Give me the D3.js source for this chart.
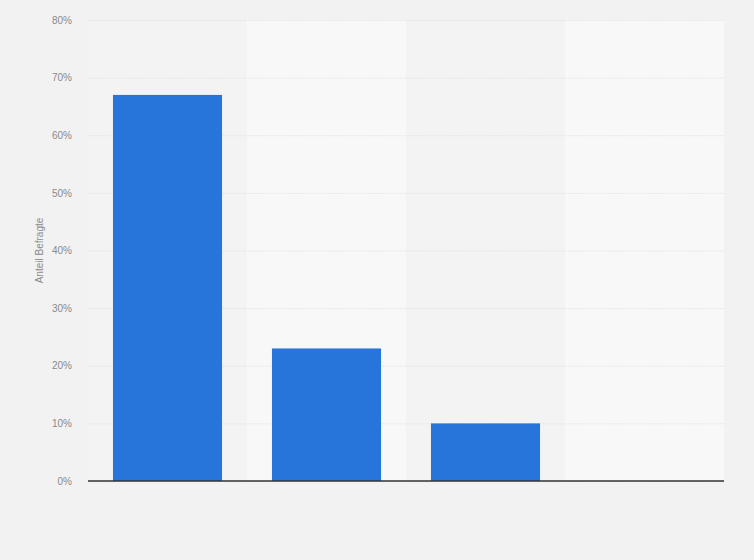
<!DOCTYPE html>
<html><head><meta charset="utf-8">
<script src="https://cdn.jsdelivr.net/npm/d3@7"></script>
<style>
html,body{margin:0;padding:0;background:#f2f2f2;}
svg{display:block;font-family:"Liberation Sans",Arial,sans-serif;}
</style></head>
<body>
<script>
const categories = ["A", "B", "C", "D"];
const values = [67, 23, 10, 0];
const yTicks = [0, 10, 20, 30, 40, 50, 60, 70, 80];
const yLabel = "Anteil Befragte";

const W = 754, H = 560;
const m = {left: 88, right: 30, top: 20, bottom: 79};
const svg = d3.select("body").append("svg").attr("width", W).attr("height", H);
svg.append("rect").attr("width", W).attr("height", H).attr("fill", "#f2f2f2");

const x = d3.scaleBand().domain(categories).range([m.left, W - m.right]).paddingInner(0.314).paddingOuter(0.157);
const y = d3.scaleLinear().domain([0, 80]).range([H - m.bottom, m.top]);

const step = x.step();
// bands
svg.append("g").selectAll("rect").data(categories).join("rect")
  .attr("x", d => x(d) - x.paddingOuter() * step)
  .attr("y", y(80))
  .attr("width", step)
  .attr("height", y(0) - y(80))
  .attr("fill", (d, i) => i % 2 === 0 ? "#f3f3f3" : "#f8f8f8");

// grid
const yAxis = d3.axisLeft(y).tickValues(yTicks).tickFormat(d => d + "%").tickSize(-(W - m.left - m.right)).tickPadding(16);
const gy = svg.append("g").attr("transform", `translate(${m.left},0)`).call(yAxis);
gy.select(".domain").remove();
gy.selectAll(".tick line").attr("stroke", "#dcdcdc").attr("stroke-dasharray", "1,1.5");
gy.selectAll(".tick text").attr("fill", "#8a8a8a").attr("font-size", 10);

// bars
svg.append("g").selectAll("rect").data(values).join("rect")
  .attr("x", (d, i) => x(categories[i]))
  .attr("y", d => y(d))
  .attr("width", x.bandwidth())
  .attr("height", d => y(0) - y(d))
  .attr("fill", "#2775db");

// baseline
svg.append("line").attr("x1", m.left).attr("x2", W - m.right).attr("y1", y(0)).attr("y2", y(0))
  .attr("stroke", "#333").attr("stroke-width", 1.3);

svg.append("text").attr("transform", `translate(43,${(y(0) + y(80)) / 2}) rotate(-90)`)
  .attr("text-anchor", "middle").attr("font-size", 10).attr("fill", "#8a8a8a").text(yLabel);
</script>
</body></html>
